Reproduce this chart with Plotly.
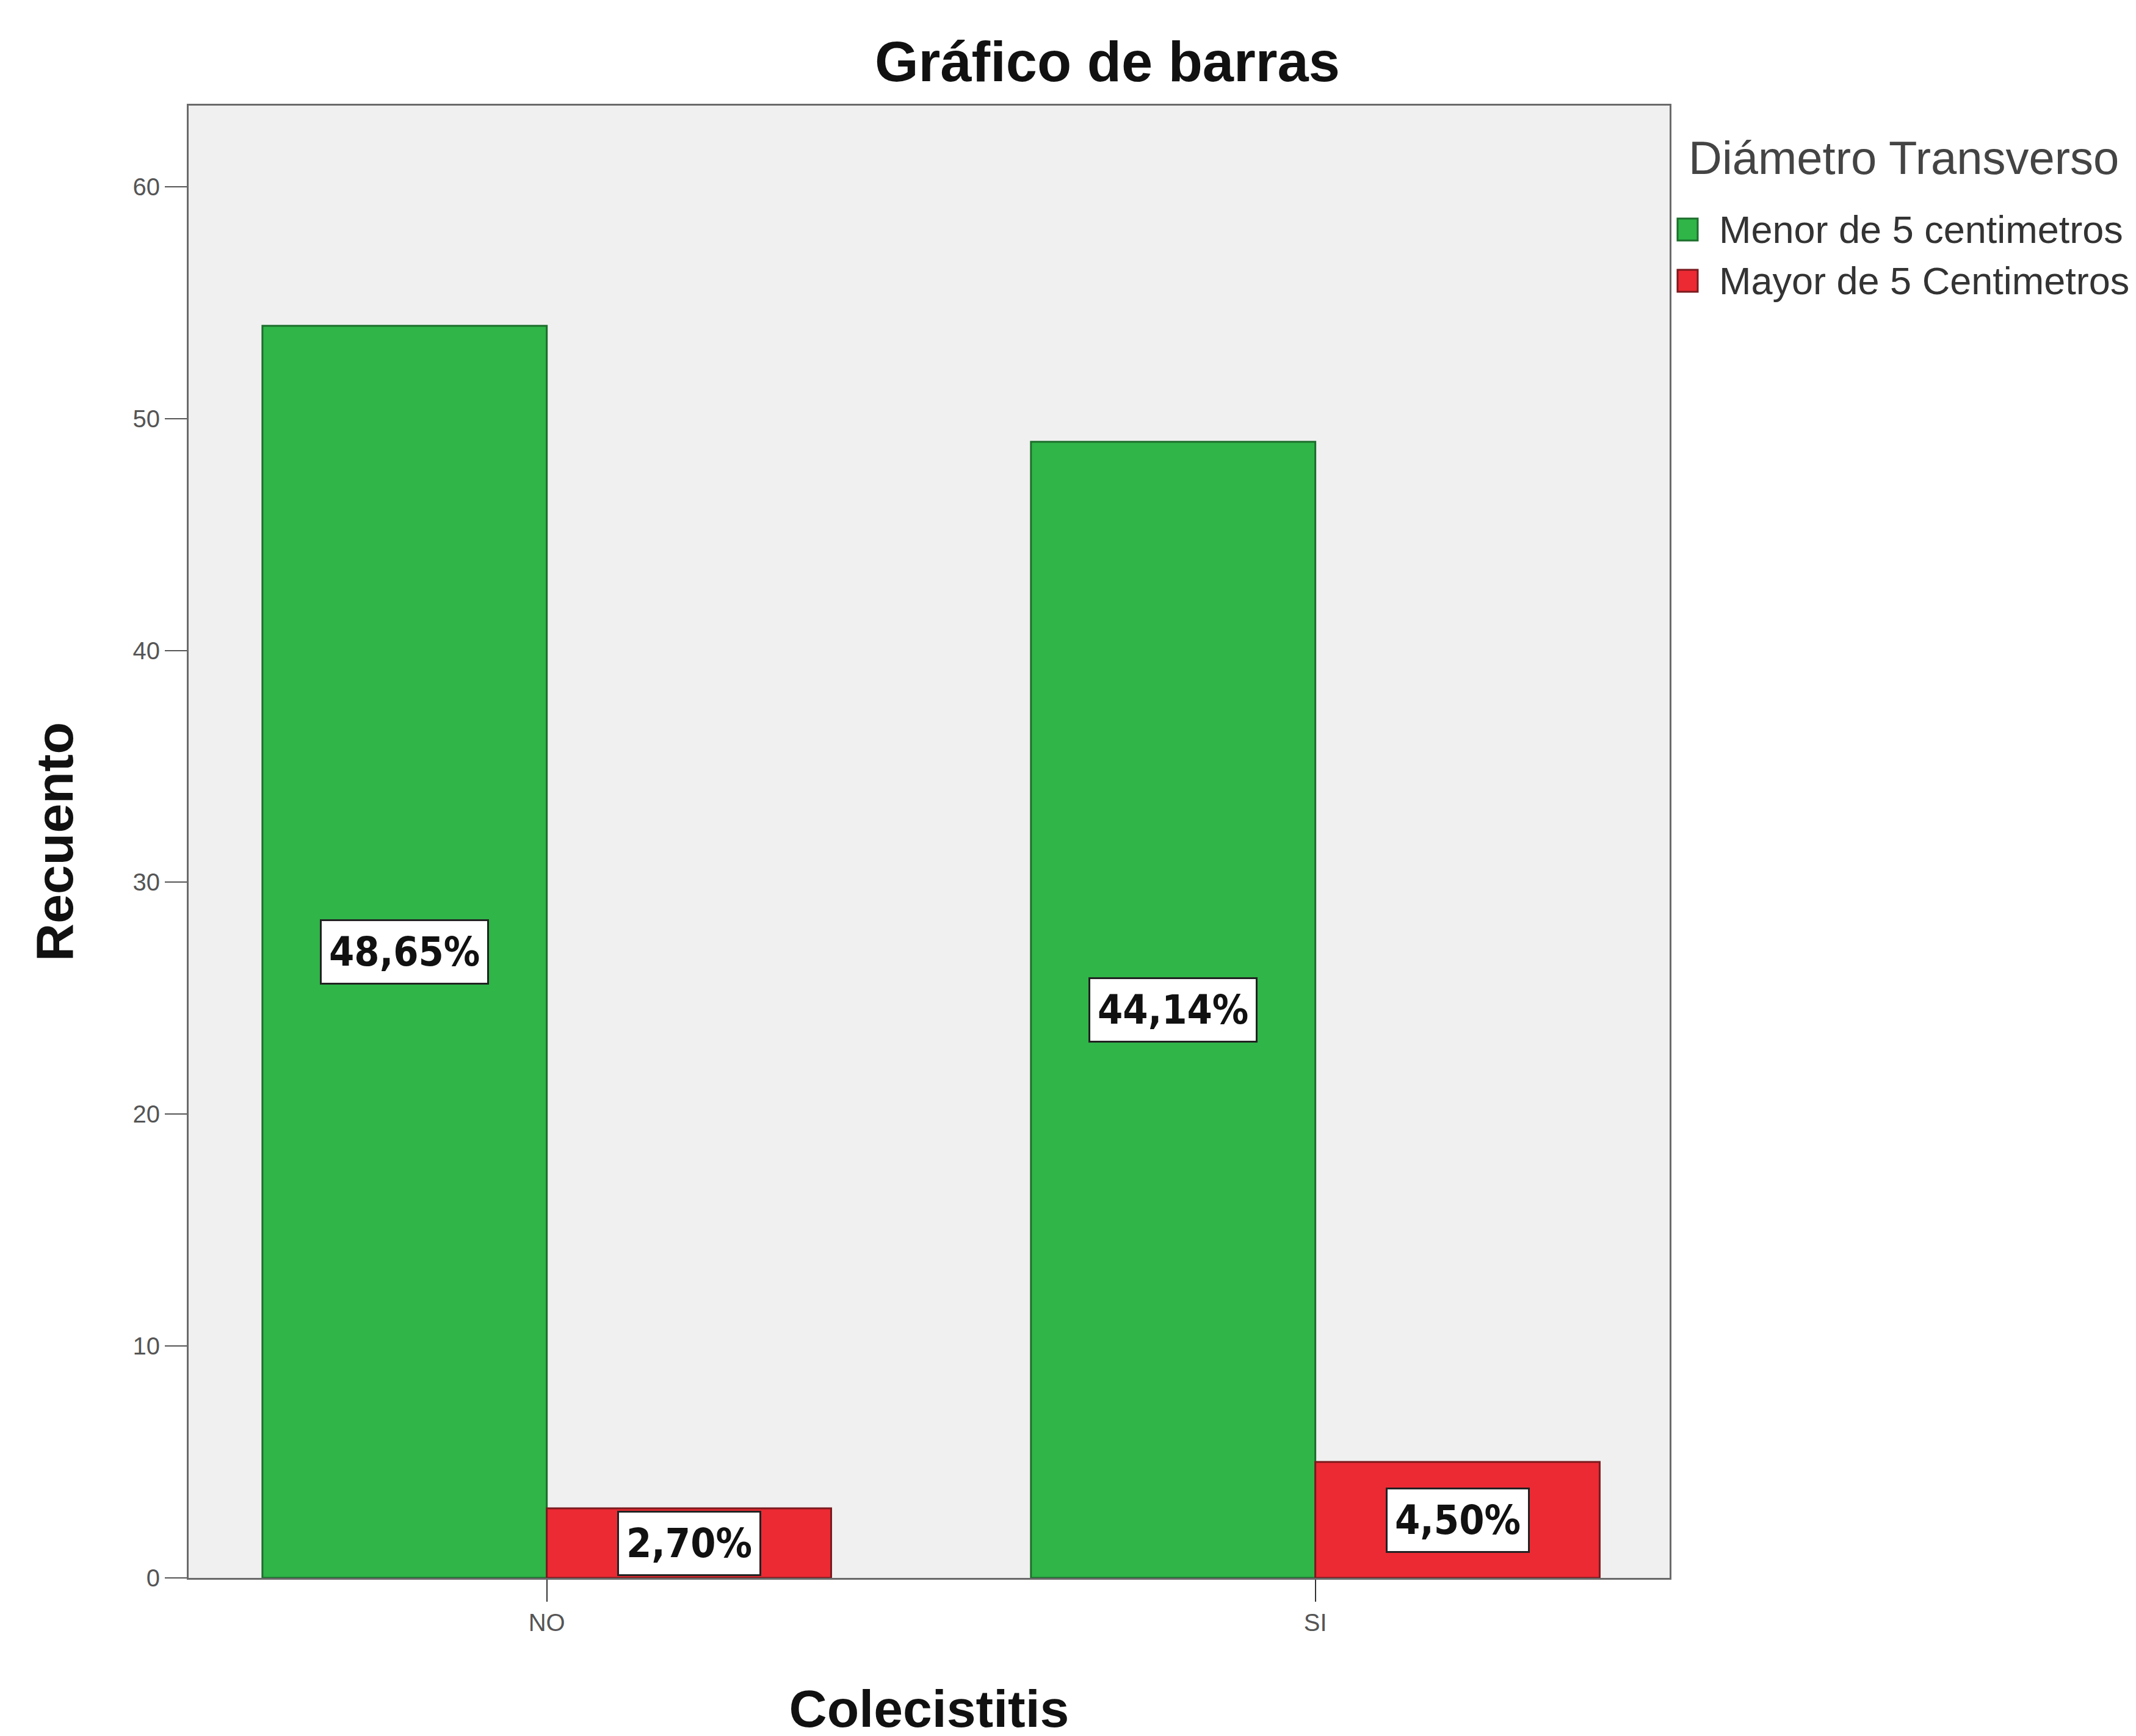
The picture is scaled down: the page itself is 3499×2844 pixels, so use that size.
import plotly.graph_objects as go

categories = ["NO", "SI"]
series_names = ["Menor de 5 centimetros", "Mayor de 5 Centimetros"]
menor_values = [54, 49]
mayor_values = [3, 5]
menor_labels = ["48,65%", "44,14%"]
mayor_labels = ["2,70%", "4,50%"]
y_ticks = [0, 10, 20, 30, 40, 50, 60]
legend_title = "Diámetro Transverso"

fill_colors = ["#2fb548", "#ec2a33"]
edge_colors = ["#1d6e2c", "#7a1a1e"]

BARGAP = 0.26
n_series = 2
bar_w = (1 - BARGAP) / n_series

W, H = 3499, 2844
ML, MR, MT, MB = 301, 772, 165, 267
PW, PH = W - ML - MR, H - MT - MB


def px_x(p):
    return (p - ML) / PW


def px_y(p):
    return (H - MB - p) / PH


fig = go.Figure()
for i, (name, vals) in enumerate([(series_names[0], menor_values), (series_names[1], mayor_values)]):
    fig.add_trace(go.Bar(
        x=categories, y=vals, name=name, showlegend=False,
        marker=dict(color=fill_colors[i], line=dict(color=edge_colors[i], width=3)),
    ))

label_font = dict(family="Liberation Sans Narrow, DejaVu Sans Condensed, Arial Narrow, Liberation Sans",
                  size=66, color="#111111")
for i, (vals, labels) in enumerate([(menor_values, menor_labels), (mayor_values, mayor_labels)]):
    offset = (i - (n_series - 1) / 2) * bar_w
    for j, (v, lab) in enumerate(zip(vals, labels)):
        fig.add_annotation(
            x=j + offset, y=v / 2, xref="x", yref="y",
            text="<b>" + lab + "</b>", showarrow=False,
            font=label_font, bgcolor="white", bordercolor="#222222", borderwidth=3,
            borderpad=12,
        )

# Legend (drawn with large swatches like the original)
fig.add_annotation(
    x=px_x(2756), y=px_y(250), xref="paper", yref="paper", xanchor="left", yanchor="middle",
    text=legend_title, showarrow=False,
    font=dict(family="Liberation Sans, Arial", size=76, color="#444444"),
)
item_centers = [368, 452]
for i, name in enumerate(series_names):
    cy = item_centers[i]
    fig.add_shape(
        type="rect", xref="paper", yref="paper",
        x0=px_x(2740), x1=px_x(2773), y0=px_y(cy + 18), y1=px_y(cy - 18),
        fillcolor=fill_colors[i], line=dict(color=edge_colors[i], width=3),
    )
    fig.add_annotation(
        x=px_x(2806), y=px_y(cy), xref="paper", yref="paper", xanchor="left", yanchor="middle",
        text=name, showarrow=False,
        font=dict(family="Liberation Sans, Arial", size=63, color="#333333"),
    )

fig.update_layout(
    width=W, height=H,
    paper_bgcolor="white", plot_bgcolor="#f0f0f0",
    margin=dict(l=ML, r=MR, t=MT, b=MB),
    barmode="group", bargap=BARGAP, bargroupgap=0,
    title=dict(text="<b>Gráfico de barras</b>", x=1806 / W, xanchor="center",
               y=1 - 93 / H, yanchor="middle",
               font=dict(family="Liberation Sans, Arial", size=92, color="#111111")),
    font=dict(family="Liberation Sans, Arial"),
    showlegend=False,
)
fig.update_xaxes(
    type="category", range=[-0.466, 1.461],
    showline=True, mirror=True, linecolor="#6a6a6a", linewidth=3,
    ticks="outside", ticklen=36, tickwidth=2, tickcolor="#333333",
    tickfont=dict(size=40, color="#555555"),
    title=dict(text="<b>Colecistitis</b>", font=dict(size=86, color="#111111"), standoff=90),
    showgrid=False,
)
fig.update_yaxes(
    range=[0, 63.5], tickvals=y_ticks,
    showline=True, mirror=True, linecolor="#6a6a6a", linewidth=3,
    ticks="outside", ticklen=36, tickwidth=2, tickcolor="#555555",
    tickfont=dict(size=40, color="#555555"),
    title=dict(text="<b>Recuento</b>", font=dict(size=86, color="#111111"), standoff=70),
    showgrid=False, zeroline=False,
)

fig.write_html("out.html")
